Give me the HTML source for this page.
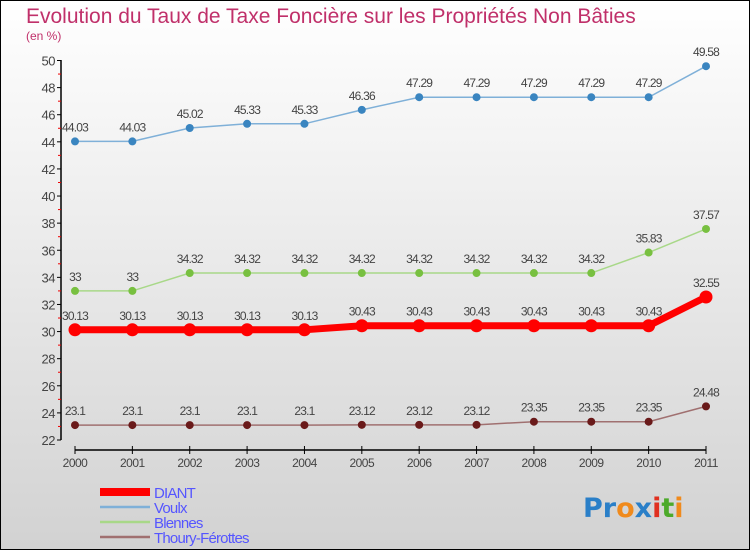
<!DOCTYPE html>
<html><head><meta charset="utf-8"><style>
html,body{margin:0;padding:0}
body{width:750px;height:550px;overflow:hidden;font-family:"Liberation Sans",sans-serif}
</style></head><body>
<svg width="750" height="550" xmlns="http://www.w3.org/2000/svg">
<defs><linearGradient id="bg" x1="0" y1="0" x2="0" y2="1"><stop offset="0" stop-color="#ffffff"/><stop offset="1" stop-color="#d2d2d2"/></linearGradient></defs>
<rect x="0.5" y="0.5" width="749" height="549" fill="url(#bg)" stroke="#000"/>
<text x="26" y="23" font-size="21" fill="#c0306a">Evolution du Taux de Taxe Foncière sur les Propriétés Non Bâties</text>
<text x="26" y="40" font-size="12" fill="#c0306a">(en %)</text>
<g id="axes"></g><g id="series"></g><g id="legend"></g>
<text x="583" y="517" font-size="27" font-weight="bold" font-family="'DejaVu Sans',sans-serif"><tspan fill="#2a7fc8">Pr</tspan><tspan fill="#f08a1c">o</tspan><tspan fill="#2a7fc8">x</tspan><tspan fill="#e03020">i</tspan><tspan fill="#4caa2a">t</tspan><tspan fill="#f08a1c">i</tspan></text>
</svg>
<script>
const years=[2000,2001,2002,2003,2004,2005,2006,2007,2008,2009,2010,2011];
const yTicks=[22,24,26,28,30,32,34,36,38,40,42,44,46,48,50];
const diant=[30.13,30.13,30.13,30.13,30.13,30.43,30.43,30.43,30.43,30.43,30.43,32.55];
const voulx=[44.03,44.03,45.02,45.33,45.33,46.36,47.29,47.29,47.29,47.29,47.29,49.58];
const blennes=[33,33,34.32,34.32,34.32,34.32,34.32,34.32,34.32,34.32,35.83,37.57];
const thoury=[23.1,23.1,23.1,23.1,23.1,23.12,23.12,23.12,23.35,23.35,23.35,24.48];
const NS="http://www.w3.org/2000/svg";
const X=i=>75+i*(706-75)/(years.length-1);
const Y=v=>440-(v-22)*(440-60.5)/28;
function mk(tag,attrs,parent,txt){const e=document.createElementNS(NS,tag);for(const k in attrs)e.setAttribute(k,attrs[k]);if(txt!==undefined)e.textContent=txt;parent.appendChild(e);return e;}
const ax=document.getElementById('axes');
let l=mk('line',{x1:61,y1:60,x2:61,y2:440,stroke:'#000','stroke-width':1.5},ax);


yTicks.forEach(t=>{
 const y=Y(t);
 const tk=mk('line',{x1:57,y1:y,x2:61,y2:y,stroke:'#000'},ax);
 
 
 if(t<50){const m=mk('line',{x1:58,y1:Y(t+1),x2:61,y2:Y(t+1),stroke:'#e00'},ax);
 
 }
 const tx=mk('text',{x:55,y:y+5,'font-size':13,fill:'#444','text-anchor':'end','letter-spacing':'-0.5'},ax,t);
 
 
});
l=mk('line',{x1:75,y1:450,x2:706,y2:450,stroke:'#000','stroke-width':1.5},ax);


years.forEach((yr,i)=>{
 const tk=mk('line',{x1:X(i),y1:446,x2:X(i),y2:454,stroke:'#000'},ax);
 
 
 const tx=mk('text',{x:X(i),y:467,'font-size':12,fill:'#444','text-anchor':'middle','letter-spacing':'-0.5'},ax,yr);
 
 
});
const sg=document.getElementById('series');
const series=[
 {name:'voulx',data:voulx,line:'#7fb0d8',pt:'#3a85c0',lw:1.5,r:4},
 {name:'blennes',data:blennes,line:'#a8d888',pt:'#78c040',lw:1.5,r:4},
 {name:'thoury',data:thoury,line:'#a07070',pt:'#6a1a1a',lw:1.5,r:4},
 {name:'diant',data:diant,line:'#ff0000',pt:'#ff0000',lw:7,r:6.5}
];
series.forEach(s=>{
 const g=mk('g',{},sg);
 
 
 const p=mk('polyline',{points:s.data.map((v,i)=>X(i)+','+Y(v)).join(' '),fill:'none',stroke:s.line,'stroke-width':s.lw},g);
 
 
 s.data.forEach((v,i)=>{
  const c=mk('circle',{cx:X(i),cy:Y(v),r:s.r,fill:s.pt},g);
  
  
  const t=mk('text',{x:X(i),y:Y(v)-10,'font-size':12,fill:'#444','text-anchor':'middle','letter-spacing':'-0.8'},g,v);
  
  
 });
});
const lg=document.getElementById('legend');
const leg=[['DIANT','#ff0000',8,496],['Voulx','#7fb0d8',2.5,511],['Blennes','#a8d888',2.5,526],['Thoury-Férottes','#a07070',2.5,541]];
leg.forEach(e=>{
 const g=mk('g',{},lg);
 
 
 const ln=mk('line',{x1:100,y1:e[3]-4,x2:150,y2:e[3]-4,stroke:e[1],'stroke-width':e[2]},g);
 
 
 const t=mk('text',{x:154,y:e[3]+2,'font-size':15,fill:'#5555ff','letter-spacing':'-0.8'},g,e[0]);
 
 
});
</script>
</body></html>
